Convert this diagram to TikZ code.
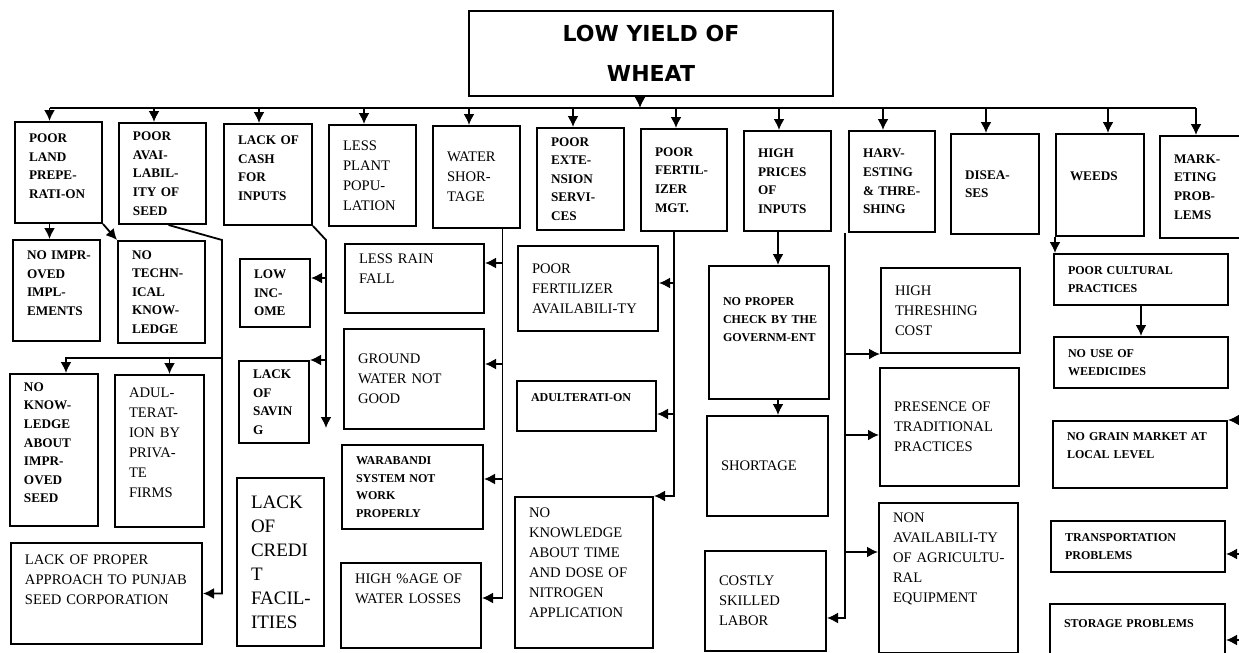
\documentclass[tikz,border=0pt]{standalone}
\usepackage{fontspec}
\setmainfont{Liberation Serif}
\newfontfamily\titlefont{DejaVu Sans}
\usetikzlibrary{arrows.meta}
\hyphenpenalty=10000
\exhyphenpenalty=10000

\begin{document}
\begin{tikzpicture}[
        x=0.5pt, y=-0.5pt,
        cause/.style={draw, line width=1pt, anchor=north west, align=left, inner sep=0pt, font=\fontsize{6.6}{9.3}\selectfont\bfseries},
        causemid/.style={cause, font=\fontsize{7.3}{10}\selectfont},
        causetiny/.style={cause, font=\fontsize{6}{8.8}\selectfont\bfseries},
        causebig/.style={cause, font=\fontsize{9.5}{12}\selectfont},
        arrow/.style={-{Latex[length=5.5pt, width=5.5pt]}, line width=0.9pt},
        link/.style={line width=0.9pt}
    ]
        \useasboundingbox (0,0) rectangle (1239,653);

        \node[draw, line width=1pt, anchor=north west, minimum width=182pt, minimum height=42.5pt, align=center, font=\titlefont\fontsize{11}{20}\selectfont\bfseries] (title) at (468,10) {LOW YIELD OF\\WHEAT};

        \node[cause, minimum width=43.5pt, minimum height=50.5pt, text width=29.5pt] (land) at (14,121) {POOR\\LAND\\PREPE-\\RATI-ON\\[-3pt]~};
        \node[cause, minimum width=43.5pt, minimum height=50.5pt, text width=29.5pt] (seed) at (118,122) {POOR\\AVAI-\\LABIL-\\ITY~OF\\SEED};
        \node[cause, minimum width=44pt, minimum height=50.5pt, text width=30pt] (cash) at (223,123) {LACK~OF\\CASH\\FOR\\INPUTS\\[-3pt]~};
        \node[causemid, minimum width=43.5pt, minimum height=50.5pt, text width=29.5pt] (plant) at (328,124) {LESS\\PLANT\\POPU-\\LATION};
        \node[causemid, minimum width=43.5pt, minimum height=51pt, text width=29.5pt] (water) at (432,125) {WATER\\SHOR-\\TAGE};
        \node[cause, minimum width=43.5pt, minimum height=51pt, text width=29.5pt] (ext) at (536,127) {POOR\\EXTE-\\NSION\\SERVI-\\CES};
        \node[cause, minimum width=43pt, minimum height=51pt, text width=29pt] (fert) at (640,128) {POOR\\FERTIL-\\IZER\\MGT.};
        \node[cause, minimum width=43.5pt, minimum height=50pt, text width=29.5pt] (price) at (743,130) {HIGH\\PRICES\\OF\\INPUTS};
        \node[cause, minimum width=43pt, minimum height=50.5pt, text width=29pt] (harv) at (848,130) {HARV-\\ESTING\\\&~THRE-\\SHING};
        \node[cause, minimum width=44pt, minimum height=50pt, text width=30pt] (dis) at (950,133) {DISEA-\\SES};
        \node[cause, minimum width=44pt, minimum height=51pt, text width=30pt] (weeds) at (1055,133) {WEEDS\\~};
        \node[cause, minimum width=44.5pt, minimum height=51pt, text width=30.5pt] (mark) at (1159,135) {MARK-\\ETING\\PROB-\\LEMS};

        \node[cause, minimum width=43.5pt, minimum height=50.5pt, text width=29.5pt] (impl) at (12,239) {NO~IMPR-\\OVED\\IMPL-\\EMENTS\\[-2pt]~};
        \node[cause, minimum width=43.5pt, minimum height=51pt, text width=29.5pt] (tech) at (117,240) {NO\\TECHN-\\ICAL\\KNOW-\\LEDGE};
        \node[cause, minimum width=44pt, minimum height=76pt, text width=30pt] (know) at (9,373) {NO\\KNOW-\\LEDGE\\ABOUT\\IMPR-\\OVED\\SEED\\[-2pt]~};
        \node[causemid, minimum width=44.5pt, minimum height=76pt, text width=30.5pt] (adul) at (114,374) {ADUL-\\TERAT-\\ION~BY\\PRIVA-\\TE\\FIRMS\\[-2pt]~};
        \node[causemid, minimum width=95.5pt, minimum height=50.5pt, text width=81.5pt] (punjab) at (10,542) {LACK~OF~PROPER\\APPROACH~TO~PUNJAB\\SEED~CORPORATION\\[4pt]~};
        \node[cause, minimum width=35pt, minimum height=34pt, text width=21pt] (income) at (239,258) {LOW\\INC-\\OME};
        \node[cause, minimum width=35pt, minimum height=41pt, text width=21pt] (saving) at (238,360) {LACK\\OF\\SAVIN\\G};
        \node[causebig, minimum width=43.5pt, minimum height=84pt, text width=29.5pt] (credit) at (236,477) {LACK\\OF\\CREDI\\T\\FACIL-\\ITIES};
        \node[causemid, minimum width=69.5pt, minimum height=34.5pt, text width=55.5pt] (rain) at (344,243) {LESS~RAIN\\FALL\\~};
        \node[causemid, minimum width=70pt, minimum height=50pt, text width=56pt] (ground) at (343,328) {GROUND\\WATER~NOT\\GOOD};
        \node[causetiny, minimum width=70.5pt, minimum height=42pt, text width=56.5pt] (wara) at (341,444) {WARABANDI\\SYSTEM~NOT\\WORK\\PROPERLY};
        \node[causemid, minimum width=70pt, minimum height=42.5pt, text width=56pt] (loss) at (340,562) {HIGH~\%AGE~OF\\WATER~LOSSES\\[6.5pt]~};
        \node[causemid, minimum width=70pt, minimum height=42.5pt, text width=56pt] (favail) at (517,245) {POOR\\FERTILIZER\\AVAILABILI-TY};
        \node[causetiny, minimum width=69.5pt, minimum height=25pt, text width=55.5pt] (adult2) at (516,380) {ADULTERATI-ON\\~};
        \node[causemid, minimum width=69pt, minimum height=75.5pt, text width=55pt] (nitro) at (514,496) {NO\\KNOWLEDGE\\ABOUT~TIME\\AND~DOSE~OF\\NITROGEN\\APPLICATION\\~};
        \node[causetiny, minimum width=60pt, minimum height=66.5pt, text width=46pt] (check) at (708,265) {NO~PROPER\\CHECK~BY~THE\\GOVERNM-ENT\\[4.2pt]~};
        \node[causemid, minimum width=60.5pt, minimum height=50pt, text width=46.5pt] (short) at (706,415) {SHORTAGE};
        \node[causemid, minimum width=60.5pt, minimum height=50pt, text width=46.5pt] (labor) at (704,550) {COSTLY\\SKILLED\\LABOR};
        \node[causemid, minimum width=69.5pt, minimum height=42.5pt, text width=55.5pt] (thresh) at (880,267) {HIGH\\THRESHING\\COST};
        \node[causemid, minimum width=69.5pt, minimum height=59pt, text width=55.5pt] (trad) at (879,367) {PRESENCE~OF\\TRADITIONAL\\PRACTICES};
        \node[causemid, minimum width=69.5pt, minimum height=75pt, text width=55.5pt] (nonav) at (878,502) {NON\\AVAILABILI-TY\\OF~AGRICULTU-\\RAL\\EQUIPMENT\\~\\~};
        \node[causetiny, minimum width=87pt, minimum height=25.5pt, text width=73pt] (cult) at (1053,253) {POOR~CULTURAL\\PRACTICES};
        \node[causetiny, minimum width=87pt, minimum height=25.5pt, text width=73pt] (weedi) at (1053,336) {NO~USE~OF\\WEEDICIDES};
        \node[causetiny, minimum width=87pt, minimum height=33.5pt, text width=73pt] (grain) at (1052,420) {NO~GRAIN~MARKET~AT\\LOCAL~LEVEL\\~};
        \node[causetiny, minimum width=87pt, minimum height=25.5pt, text width=73pt] (transp) at (1050,520) {TRANSPORTATION\\PROBLEMS};
        \node[causetiny, minimum width=87.5pt, minimum height=28.5pt, text width=73.5pt] (store) at (1049,603) {STORAGE~PROBLEMS\\~};

        \coordinate (bus) at (640,108);
        \coordinate (cashbend) at (326,240);
        \coordinate (cashend) at (326,428);
        \coordinate (seedbend) at (222,240);
        \coordinate (seedjoin) at (222,358);
        \coordinate (waterline) at ([xshift=13pt]water.south);
        \coordinate (fertline) at ([xshift=-5pt]fert.south);
        \coordinate (priceline) at ([xshift=-4.75pt]price.south);
        \coordinate (harvline) at ([xshift=-1.5pt]harv.south west);
        \coordinate (markline) at (1239,240);

        \draw[arrow] (title.south -| bus) -- (bus);
        \draw[link] ([xshift=-4.5pt]land.north |- bus) -- ([xshift=-4.25pt]mark.north |- bus);
        \draw[arrow] ([xshift=-4.5pt]land.north |- bus) -- ([xshift=-4.5pt]land.north);
        \draw[arrow] ([xshift=-4.25pt]seed.north |- bus) -- ([xshift=-4.25pt]seed.north);
        \draw[arrow] ([xshift=-4.5pt]cash.north |- bus) -- ([xshift=-4.5pt]cash.north);
        \draw[arrow] ([xshift=-4.25pt]plant.north |- bus) -- ([xshift=-4.25pt]plant.north);
        \draw[arrow] ([xshift=-3.75pt]water.north |- bus) -- ([xshift=-3.75pt]water.north);
        \draw[arrow] ([xshift=-3.75pt]ext.north |- bus) -- ([xshift=-3.75pt]ext.north);
        \draw[arrow] ([xshift=-4pt]fert.north |- bus) -- ([xshift=-4pt]fert.north);
        \draw[arrow] ([xshift=-4.25pt]price.north |- bus) -- ([xshift=-4.25pt]price.north);
        \draw[arrow] ([xshift=-4.5pt]harv.north |- bus) -- ([xshift=-4.5pt]harv.north);
        \draw[arrow] ([xshift=-4.5pt]dis.north |- bus) -- ([xshift=-4.5pt]dis.north);
        \draw[arrow] ([xshift=4pt]weeds.north |- bus) -- ([xshift=4pt]weeds.north);
        \draw[arrow] ([xshift=-4.25pt]mark.north |- bus) -- ([xshift=-4.25pt]mark.north);

        \draw[arrow] ([xshift=-4.5pt]land.south) -- ([xshift=-4.5pt]land.south |- impl.north);
        \draw[arrow] (land.south east) -- (tech.north west);
        \draw[arrow] ([xshift=3pt]seed.south) -- (seedbend) |- (punjab.east);
        \draw[arrow] (seedjoin) -| ([xshift=6pt]know.north);
        \draw[arrow] ([xshift=5pt]adul.north |- seedjoin) -- ([xshift=5pt]adul.north);

        \draw[arrow] (cash.south east) -- (cashbend) -- (cashend);
        \draw[arrow] ([yshift=7.5pt]income.east -| cashbend) -- ([yshift=7.5pt]income.east);
        \draw[arrow] (saving.north east -| cashbend) -- (saving.north east);

        \draw[arrow] (waterline) |- ([yshift=3.75pt]loss.east);
        \draw[arrow] ([yshift=7.75pt]rain.east -| waterline) -- ([yshift=7.75pt]rain.east);
        \draw[arrow] ([yshift=7.5pt]ground.east -| waterline) -- ([yshift=7.5pt]ground.east);
        \draw[arrow] ([yshift=4pt]wara.east -| waterline) -- ([yshift=4pt]wara.east);

        \draw[arrow] (fertline) |- (nitro.north east);
        \draw[arrow] ([yshift=2.75pt]favail.east -| fertline) -- ([yshift=2.75pt]favail.east);
        \draw[arrow] ([yshift=-4pt]adult2.east -| fertline) -- ([yshift=-4pt]adult2.east);

        \draw[arrow] (priceline) -- (priceline |- check.north);
        \draw[arrow] (priceline |- check.south) -- (priceline |- short.north);

        \draw[arrow] (harvline) |- ([yshift=-8.5pt]labor.east);
        \draw[arrow] (harvline |- thresh.south west) -- (thresh.south west);
        \draw[arrow] ([yshift=-4pt]trad.west -| harvline) -- ([yshift=-4pt]trad.west);
        \draw[arrow] ([yshift=13pt]nonav.west -| harvline) -- ([yshift=13pt]nonav.west);

        \draw[arrow] (weeds.south west) -- (weeds.south west |- cult.north);
        \draw[arrow] (cult) -- (weedi);
        \draw[arrow] (grain.north east -| markline) -- (grain.north east);
        \draw[arrow] ([yshift=-3.75pt]transp.east -| markline) -- ([yshift=-3.75pt]transp.east);
        \draw[arrow] ([yshift=-3.75pt]store.east -| markline) -- ([yshift=-3.75pt]store.east);
    \end{tikzpicture}
\end{document}
